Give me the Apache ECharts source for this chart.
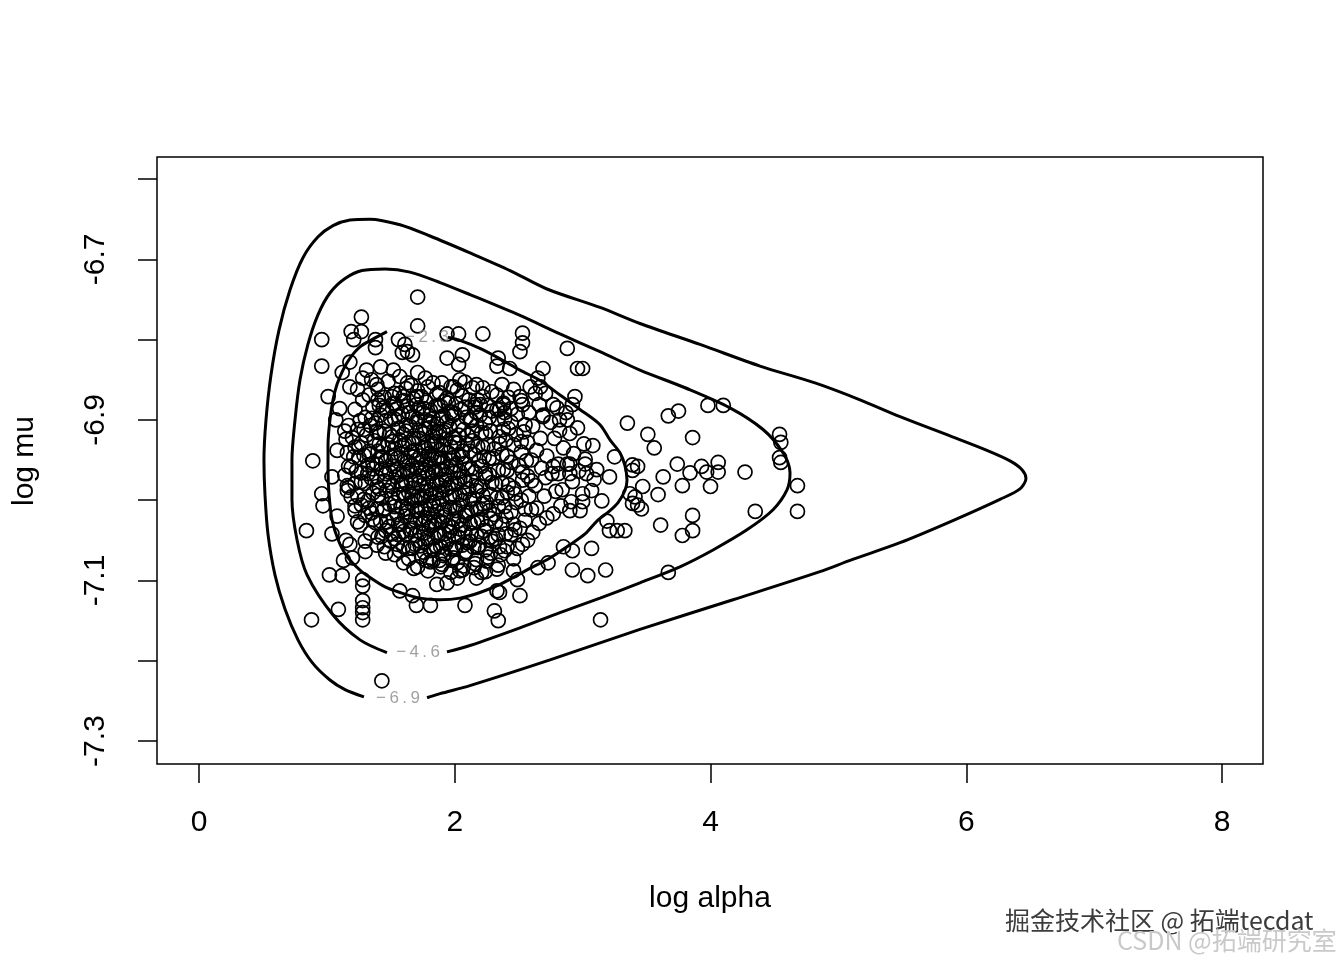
<!DOCTYPE html>
<html>
<head>
<meta charset="utf-8">
<script src="https://cdn.jsdelivr.net/npm/echarts@6/dist/echarts.min.js"></script>
<style>
  html, body { margin: 0; padding: 0; background: #fff; }
  #chart { width: 1344px; height: 960px; }
</style>
</head>
<body>
<div id="chart"></div>
<script>
// ---- axis ticks / labels ----
const xTicks = [0, 2, 4, 6, 8];
const yTicks = [-7.3, -7.2, -7.1, -7.0, -6.9, -6.8, -6.7, -6.6];
const yTickLabels = [-7.3, -7.1, -6.9, -6.7];
const xTitle = 'log alpha';
const yTitle = 'log mu';

// ---- scattered (readable) samples: [log alpha, log mu] ----
const sparsePoints = [
  [1.71,-6.747],[1.27,-6.772],[1.19,-6.790],[1.27,-6.790],[1.21,-6.800],[0.96,-6.800],[1.71,-6.783],
  [1.94,-6.793],[2.03,-6.793],[0.96,-6.833],[1.38,-6.800],[1.38,-6.810],[1.56,-6.800],[1.61,-6.806],
  [1.63,-6.815],[1.59,-6.816],[1.67,-6.819],[1.94,-6.823],[2.06,-6.819],[2.03,-6.831],[1.18,-6.828],
  [1.12,-6.841],[1.31,-6.838],[1.42,-6.834],[1.52,-6.838],[1.28,-6.848],[1.35,-6.850],[1.39,-6.856],
  [1.57,-6.846],[1.63,-6.854],[1.71,-6.841],[1.77,-6.848],[1.90,-6.854],[1.99,-6.859],[2.04,-6.850],
  [1.01,-6.871],[1.18,-6.859],[1.24,-6.862],[1.40,-6.875],[1.51,-6.871],[1.60,-6.871],[1.70,-6.871],
  [2.22,-6.793],[2.53,-6.792],[2.53,-6.804],[2.51,-6.815],[2.88,-6.811],[2.96,-6.836],[3.00,-6.836],
  [2.34,-6.823],[2.33,-6.833],[2.43,-6.836],[2.69,-6.836],[2.65,-6.848],[2.67,-6.859],[2.59,-6.859],
  [2.17,-6.856],[2.22,-6.860],[2.22,-6.871],[2.51,-6.871],[2.53,-6.881],[2.77,-6.881],[2.94,-6.871],
  [2.92,-6.881],[3.35,-6.904],[2.38,-6.881],[2.39,-6.891],[2.33,-6.887],[2.69,-6.894],[2.82,-6.900],
  [2.88,-6.900],[2.16,-6.881],[2.17,-6.891],
  [3.67,-6.895],[3.75,-6.889],[3.98,-6.882],[4.10,-6.882],[3.51,-6.918],[3.56,-6.935],[3.86,-6.922],
  [4.54,-6.918],[4.55,-6.928],[4.54,-6.947],[4.55,-6.953],[3.39,-6.956],[3.43,-6.958],[3.74,-6.955],
  [3.93,-6.958],[4.06,-6.953],[3.97,-6.965],[4.06,-6.965],[4.27,-6.965],[3.84,-6.966],[3.63,-6.971],
  [3.78,-6.982],[4.00,-6.983],[3.47,-6.983],[3.59,-6.993],[3.41,-6.996],[3.43,-7.006],[3.46,-7.011],
  [4.68,-6.982],[4.35,-7.014],[4.68,-7.014],[3.86,-7.019],[3.86,-7.038],[3.78,-7.044],[3.61,-7.031],
  [3.67,-7.090],
  [3.25,-6.946],[3.21,-6.971],[3.39,-6.963],[3.07,-6.988],[3.15,-7.001],[3.37,-6.992],[3.39,-7.004],
  [3.21,-7.038],[3.27,-7.038],[3.33,-7.038],[3.07,-7.060],[2.92,-7.063],[2.85,-7.058],[3.19,-7.026],
  [3.00,-7.002],[2.98,-7.013],[2.90,-7.013],[3.02,-6.955],[3.03,-6.967],[2.90,-6.955],[2.90,-6.967],
  [2.77,-6.958],[2.81,-6.967],
  [2.92,-7.087],[3.04,-7.094],[3.18,-7.087],[3.14,-7.149],[2.51,-7.119],[2.31,-7.138],[2.34,-7.150],
  [2.33,-7.113],[2.35,-7.115],[2.65,-7.084],[2.73,-7.078],[2.46,-7.088],[2.49,-7.099],[2.17,-7.097],
  [2.21,-7.090],
  [1.02,-7.093],[1.12,-7.094],[1.28,-7.099],[1.28,-7.107],[1.09,-7.136],[0.88,-7.149],[1.28,-7.125],
  [1.28,-7.134],[1.28,-7.140],[1.28,-7.149],[1.43,-7.225],[1.57,-7.113],[1.67,-7.119],[1.70,-7.131],
  [1.81,-7.131],[1.86,-7.105],[1.94,-7.103],[2.02,-7.097],[2.04,-7.088],[1.13,-7.075],[1.20,-7.072],
  [1.78,-7.075],[1.88,-7.075],[2.02,-7.078],[2.08,-7.131],
  [0.89,-6.951],[1.08,-6.938],[1.14,-6.914],[1.17,-6.958],[1.04,-6.971],[0.96,-6.992],[0.97,-7.007],
  [1.16,-6.982],[1.16,-6.988],[0.84,-7.038],[1.04,-7.042],[1.22,-7.007],[1.24,-7.027],[1.32,-6.967],
  [1.39,-6.955],[1.42,-6.946],[1.10,-6.886],[1.07,-6.900],[1.15,-7.050],[1.08,-7.020],[1.18,-7.055],
  [1.30,-7.064]
];

// ---- dense core samples (estimated) ----
const corePoints = [
  [1.48,-6.852],[1.66,-6.857],[1.83,-6.854],[1.97,-6.859],[2.08,-6.853],[2.37,-6.856],
  [1.40,-6.862],[1.53,-6.867],[1.62,-6.861],[1.71,-6.864],[1.79,-6.859],[1.88,-6.866],[2.02,-6.863],[2.14,-6.860],[2.29,-6.865],[2.46,-6.862],[2.63,-6.867],
  [1.33,-6.869],[1.45,-6.872],[1.57,-6.867],[1.68,-6.874],[1.74,-6.871],[1.86,-6.868],[1.94,-6.873],[2.06,-6.870],[2.18,-6.875],[2.33,-6.869],[2.42,-6.872],[2.71,-6.867],
  [1.28,-6.875],[1.41,-6.882],[1.52,-6.879],[1.60,-6.876],[1.70,-6.881],[1.78,-6.878],[1.85,-6.883],[1.92,-6.877],[2.01,-6.880],[2.11,-6.875],[2.25,-6.882],[2.38,-6.879],[2.52,-6.876],[2.66,-6.881],
  [1.22,-6.887],[1.36,-6.884],[1.47,-6.889],[1.55,-6.886],[1.64,-6.891],[1.72,-6.885],[1.81,-6.888],[1.89,-6.883],[1.97,-6.890],[2.05,-6.887],[2.16,-6.884],[2.29,-6.889],[2.44,-6.886],[2.58,-6.891],[2.80,-6.885],
  [1.30,-6.897],[1.42,-6.894],[1.50,-6.899],[1.59,-6.893],[1.67,-6.896],[1.75,-6.891],[1.83,-6.898],[1.91,-6.895],[2.00,-6.892],[2.09,-6.897],[2.20,-6.894],[2.34,-6.899],[2.49,-6.893],[2.69,-6.896],[2.87,-6.891],
  [1.17,-6.907],[1.26,-6.901],[1.38,-6.904],[1.53,-6.899],[1.62,-6.906],[1.70,-6.903],[1.77,-6.900],[1.86,-6.905],[1.94,-6.902],[2.03,-6.907],[2.13,-6.901],[2.24,-6.904],[2.39,-6.899],[2.55,-6.906],[2.75,-6.903],
  [1.24,-6.912],[1.34,-6.907],[1.45,-6.914],[1.56,-6.911],[1.65,-6.908],[1.73,-6.913],[1.80,-6.910],[1.88,-6.915],[1.96,-6.909],[2.07,-6.912],[2.17,-6.907],[2.28,-6.914],[2.42,-6.911],[2.61,-6.908],[2.82,-6.913],[2.96,-6.910],
  [1.20,-6.922],[1.31,-6.919],[1.41,-6.916],[1.51,-6.921],[1.60,-6.918],[1.68,-6.923],[1.76,-6.917],[1.83,-6.920],[1.91,-6.915],[1.99,-6.922],[2.10,-6.919],[2.21,-6.916],[2.35,-6.921],[2.48,-6.918],[2.67,-6.923],[2.90,-6.917],
  [1.15,-6.924],[1.27,-6.929],[1.37,-6.926],[1.48,-6.931],[1.57,-6.925],[1.64,-6.928],[1.72,-6.923],[1.79,-6.930],[1.86,-6.927],[1.93,-6.924],[2.02,-6.929],[2.14,-6.926],[2.26,-6.931],[2.40,-6.925],[2.57,-6.928],[2.78,-6.923],[3.01,-6.930],
  [1.22,-6.934],[1.33,-6.939],[1.44,-6.933],[1.53,-6.936],[1.61,-6.931],[1.69,-6.938],[1.75,-6.935],[1.82,-6.932],[1.89,-6.937],[1.97,-6.934],[2.06,-6.939],[2.18,-6.933],[2.31,-6.936],[2.46,-6.931],[2.64,-6.938],[2.85,-6.935],[3.08,-6.932],
  [1.16,-6.941],[1.29,-6.944],[1.40,-6.939],[1.50,-6.946],[1.58,-6.943],[1.66,-6.940],[1.73,-6.945],[1.80,-6.942],[1.87,-6.947],[1.95,-6.941],[2.03,-6.944],[2.12,-6.939],[2.23,-6.946],[2.37,-6.943],[2.52,-6.940],[2.72,-6.945],[2.93,-6.942],
  [1.25,-6.947],[1.36,-6.954],[1.46,-6.951],[1.55,-6.948],[1.63,-6.953],[1.70,-6.950],[1.77,-6.955],[1.84,-6.949],[1.91,-6.952],[1.99,-6.947],[2.08,-6.954],[2.19,-6.951],[2.30,-6.948],[2.44,-6.953],[2.60,-6.950],[2.81,-6.955],[3.02,-6.949],
  [1.19,-6.959],[1.32,-6.956],[1.43,-6.961],[1.52,-6.958],[1.60,-6.963],[1.67,-6.957],[1.74,-6.960],[1.81,-6.955],[1.88,-6.962],[1.94,-6.959],[2.01,-6.956],[2.10,-6.961],[2.21,-6.958],[2.34,-6.963],[2.50,-6.957],[2.68,-6.960],[2.88,-6.955],[3.11,-6.962],
  [1.14,-6.969],[1.27,-6.966],[1.39,-6.971],[1.49,-6.965],[1.57,-6.968],[1.65,-6.963],[1.72,-6.970],[1.79,-6.967],[1.85,-6.964],[1.92,-6.969],[1.99,-6.966],[2.07,-6.971],[2.16,-6.965],[2.27,-6.968],[2.41,-6.963],[2.57,-6.970],[2.76,-6.967],[2.97,-6.964],
  [1.22,-6.979],[1.35,-6.973],[1.45,-6.976],[1.54,-6.971],[1.62,-6.978],[1.69,-6.975],[1.76,-6.972],[1.83,-6.977],[1.90,-6.974],[1.97,-6.979],[2.04,-6.973],[2.13,-6.976],[2.24,-6.971],[2.37,-6.978],[2.53,-6.975],[2.71,-6.972],[2.92,-6.977],[3.09,-6.974],
  [1.17,-6.984],[1.30,-6.979],[1.41,-6.986],[1.51,-6.983],[1.59,-6.980],[1.67,-6.985],[1.74,-6.982],[1.81,-6.987],[1.88,-6.981],[1.95,-6.984],[2.02,-6.979],[2.11,-6.986],[2.20,-6.983],[2.32,-6.980],[2.46,-6.985],[2.63,-6.982],[2.84,-6.987],
  [1.24,-6.994],[1.36,-6.991],[1.47,-6.988],[1.56,-6.993],[1.64,-6.990],[1.71,-6.995],[1.78,-6.989],[1.85,-6.992],[1.93,-6.987],[2.00,-6.994],[2.08,-6.991],[2.17,-6.988],[2.28,-6.993],[2.41,-6.990],[2.58,-6.995],[2.79,-6.989],[3.00,-6.992],
  [1.19,-6.996],[1.32,-7.001],[1.43,-6.998],[1.53,-7.003],[1.61,-6.997],[1.69,-7.000],[1.76,-6.995],[1.83,-7.002],[1.90,-6.999],[1.98,-6.996],[2.06,-7.001],[2.15,-6.998],[2.25,-7.003],[2.37,-6.997],[2.52,-7.000],[2.70,-6.995],[2.91,-7.002],
  [1.27,-7.006],[1.39,-7.011],[1.49,-7.005],[1.58,-7.008],[1.66,-7.003],[1.74,-7.010],[1.81,-7.007],[1.88,-7.004],[1.96,-7.009],[2.04,-7.006],[2.13,-7.011],[2.22,-7.005],[2.34,-7.008],[2.48,-7.003],[2.64,-7.010],[2.83,-7.007],
  [1.22,-7.013],[1.35,-7.016],[1.45,-7.011],[1.55,-7.018],[1.63,-7.015],[1.71,-7.012],[1.79,-7.017],[1.86,-7.014],[1.93,-7.019],[2.01,-7.013],[2.10,-7.016],[2.20,-7.011],[2.31,-7.018],[2.44,-7.015],[2.60,-7.012],[2.77,-7.017],
  [1.30,-7.019],[1.42,-7.026],[1.52,-7.023],[1.61,-7.020],[1.69,-7.025],[1.77,-7.022],[1.84,-7.027],[1.91,-7.021],[1.99,-7.024],[2.08,-7.019],[2.18,-7.026],[2.28,-7.023],[2.40,-7.020],[2.55,-7.025],[2.72,-7.022],
  [1.26,-7.031],[1.38,-7.028],[1.49,-7.033],[1.58,-7.030],[1.67,-7.035],[1.75,-7.029],[1.82,-7.032],[1.90,-7.027],[1.98,-7.034],[2.06,-7.031],[2.15,-7.028],[2.25,-7.033],[2.37,-7.030],[2.51,-7.035],[2.66,-7.029],
  [1.34,-7.041],[1.46,-7.038],[1.56,-7.043],[1.65,-7.037],[1.73,-7.040],[1.80,-7.035],[1.88,-7.042],[1.96,-7.039],[2.04,-7.036],[2.13,-7.041],[2.23,-7.038],[2.34,-7.043],[2.47,-7.037],[2.61,-7.040],
  [1.30,-7.051],[1.43,-7.045],[1.53,-7.048],[1.62,-7.043],[1.71,-7.050],[1.79,-7.047],[1.87,-7.044],[1.95,-7.049],[2.03,-7.046],[2.12,-7.051],[2.21,-7.045],[2.32,-7.048],[2.44,-7.043],[2.57,-7.050],
  [1.39,-7.056],[1.50,-7.051],[1.60,-7.058],[1.69,-7.055],[1.77,-7.052],[1.85,-7.057],[1.93,-7.054],[2.01,-7.059],[2.10,-7.053],[2.19,-7.056],[2.29,-7.051],[2.41,-7.058],[2.53,-7.055],
  [1.46,-7.066],[1.57,-7.063],[1.67,-7.060],[1.76,-7.065],[1.84,-7.062],[1.92,-7.067],[2.00,-7.061],[2.09,-7.064],[2.18,-7.059],[2.28,-7.066],[2.39,-7.063],[2.49,-7.060],
  [1.53,-7.068],[1.64,-7.073],[1.74,-7.070],[1.83,-7.075],[1.91,-7.069],[1.99,-7.072],[2.08,-7.067],[2.17,-7.074],[2.26,-7.071],[2.36,-7.068],[2.46,-7.073],
  [1.60,-7.078],[1.71,-7.083],[1.81,-7.077],[1.90,-7.080],[1.98,-7.075],[2.07,-7.082],[2.16,-7.079],[2.25,-7.076],[2.34,-7.081],
  [1.68,-7.085],[1.79,-7.088],[1.89,-7.083],[1.97,-7.090],[2.06,-7.087],[2.15,-7.084],[2.24,-7.089],[2.33,-7.086]
];

// ---- extra samples in the densest centre (estimated) ----
const centrePoints = [
  [1.44,-6.885],[1.53,-6.880],[1.63,-6.883],[1.76,-6.886],[1.87,-6.882],[1.95,-6.879],[2.08,-6.884],[2.20,-6.881],[2.35,-6.887],
  [1.35,-6.898],[1.46,-6.901],[1.56,-6.896],[1.71,-6.899],[1.80,-6.902],[1.89,-6.898],[1.98,-6.895],[2.12,-6.900],[2.27,-6.897],[2.44,-6.903],
  [1.29,-6.912],[1.39,-6.915],[1.49,-6.918],[1.62,-6.914],[1.77,-6.911],[1.85,-6.916],[1.93,-6.913],[2.03,-6.919],[2.14,-6.914],[2.24,-6.917],[2.38,-6.912],[2.54,-6.915],
  [1.25,-6.934],[1.41,-6.930],[1.51,-6.927],[1.59,-6.932],[1.67,-6.929],[1.77,-6.935],[1.84,-6.930],[1.91,-6.933],[2.00,-6.928],[2.10,-6.931],[2.22,-6.934],[2.35,-6.930],[2.52,-6.927],
  [1.21,-6.946],[1.33,-6.943],[1.43,-6.948],[1.53,-6.945],[1.61,-6.951],[1.68,-6.946],[1.75,-6.949],[1.82,-6.944],[1.89,-6.947],[1.97,-6.950],[2.06,-6.946],[2.15,-6.943],[2.27,-6.948],[2.41,-6.945],[2.56,-6.951],
  [1.23,-6.964],[1.36,-6.961],[1.46,-6.967],[1.55,-6.962],[1.63,-6.965],[1.70,-6.960],[1.77,-6.963],[1.83,-6.966],[1.90,-6.962],[1.97,-6.959],[2.04,-6.964],[2.13,-6.961],[2.24,-6.967],[2.38,-6.962],[2.53,-6.965],
  [1.27,-6.977],[1.39,-6.983],[1.49,-6.978],[1.58,-6.981],[1.66,-6.976],[1.72,-6.979],[1.79,-6.982],[1.86,-6.978],[1.93,-6.975],[2.00,-6.980],[2.08,-6.977],[2.17,-6.983],[2.29,-6.978],[2.42,-6.981],[2.60,-6.976],
  [1.29,-6.999],[1.40,-6.994],[1.51,-6.997],[1.60,-6.992],[1.67,-6.995],[1.74,-6.998],[1.81,-6.994],[1.88,-6.991],[1.96,-6.996],[2.04,-6.993],[2.12,-6.999],[2.22,-6.994],[2.33,-6.997],[2.47,-6.992],
  [1.33,-7.010],[1.44,-7.013],[1.53,-7.008],[1.62,-7.011],[1.70,-7.014],[1.77,-7.010],[1.84,-7.007],[1.92,-7.012],[2.00,-7.009],[2.08,-7.015],[2.17,-7.010],[2.27,-7.013],[2.39,-7.008],[2.55,-7.011],
  [1.36,-7.024],[1.47,-7.027],[1.56,-7.030],[1.65,-7.026],[1.73,-7.023],[1.80,-7.028],[1.87,-7.025],[1.95,-7.031],[2.03,-7.026],[2.12,-7.029],[2.21,-7.024],[2.32,-7.027],[2.46,-7.030],
  [1.40,-7.046],[1.51,-7.042],[1.60,-7.039],[1.69,-7.044],[1.76,-7.041],[1.84,-7.047],[1.92,-7.042],[2.00,-7.045],[2.08,-7.040],[2.17,-7.043],[2.28,-7.046],[2.40,-7.042],
  [1.45,-7.058],[1.55,-7.055],[1.64,-7.060],[1.73,-7.057],[1.81,-7.063],[1.89,-7.058],[1.97,-7.061],[2.06,-7.056],[2.15,-7.059],[2.24,-7.062],[2.35,-7.058]
];

// ---- contour lines (level -6.9, -4.6, -2.3) ----
const contourOuter = [
  [1.290,-7.245],[1.142,-7.236],[1.024,-7.224],[0.884,-7.202],[0.774,-7.174],[0.673,-7.136],[0.594,-7.093],
  [0.540,-7.043],[0.516,-6.993],[0.508,-6.950],[0.524,-6.900],[0.563,-6.844],[0.626,-6.788],[0.712,-6.738],
  [0.813,-6.698],[0.931,-6.672],[1.048,-6.658],[1.181,-6.651],[1.337,-6.650],[1.572,-6.657],[1.806,-6.671],
  [2.119,-6.692],[2.432,-6.714],[2.721,-6.737],[3.136,-6.760],[3.448,-6.780],[3.918,-6.806],[4.387,-6.833],
  [4.817,-6.854],[5.169,-6.875],[5.482,-6.896],[5.873,-6.920],[6.147,-6.937],[6.342,-6.951],[6.436,-6.962],
  [6.467,-6.973],[6.420,-6.986],[6.264,-6.999],[5.873,-7.027],[5.482,-7.053],[5.091,-7.075],[4.856,-7.089],
  [4.176,-7.124],[3.448,-7.161],[2.745,-7.199],[2.119,-7.231],[1.885,-7.241],[1.783,-7.246]
];
const contourMiddle = [
  [1.470,-7.190],[1.259,-7.174],[1.048,-7.143],[0.845,-7.093],[0.766,-7.049],[0.727,-6.999],[0.727,-6.950],
  [0.751,-6.900],[0.790,-6.850],[0.852,-6.806],[0.931,-6.769],[1.024,-6.742],[1.142,-6.724],[1.275,-6.714],
  [1.455,-6.712],[1.650,-6.716],[1.885,-6.729],[2.119,-6.744],[2.510,-6.770],[2.823,-6.793],[3.136,-6.815],
  [3.448,-6.838],[3.801,-6.860],[4.152,-6.885],[4.411,-6.912],[4.567,-6.941],[4.622,-6.966],[4.599,-6.987],
  [4.489,-7.012],[4.285,-7.037],[4.020,-7.062],[3.761,-7.083],[3.448,-7.103],[3.136,-7.122],[2.823,-7.140],
  [2.510,-7.159],[2.119,-7.181],[1.939,-7.189]
];
const contourInner = [
  [1.470,-6.790],[1.353,-6.800],[1.259,-6.809],[1.181,-6.823],[1.126,-6.838],[1.079,-6.856],[1.048,-6.875],
  [1.024,-6.900],[1.009,-6.931],[1.009,-6.962],[1.017,-6.993],[1.040,-7.024],[1.087,-7.049],[1.157,-7.070],
  [1.259,-7.087],[1.353,-7.098],[1.455,-7.108],[1.572,-7.115],[1.728,-7.122],[1.885,-7.124],[2.041,-7.122],
  [2.197,-7.115],[2.354,-7.105],[2.588,-7.085],[2.745,-7.072],[2.878,-7.058],[3.019,-7.042],[3.112,-7.026],
  [3.214,-7.013],[3.277,-7.003],[3.331,-6.988],[3.347,-6.975],[3.331,-6.957],[3.292,-6.941],[3.214,-6.925],
  [3.136,-6.906],[2.979,-6.887],[2.823,-6.869],[2.667,-6.851],[2.510,-6.838],[2.354,-6.824],[2.197,-6.811],
  [2.041,-6.801],[1.947,-6.797]
];
const contourLabels = ['\u2212\u20092\u2009.\u20093', '\u2212\u20094\u2009.\u20096', '\u2212\u20096\u2009.\u20099'];
const contourLabelAt = [[1.783,-6.797],[1.713,-7.190],[1.556,-7.247]];

// ---- axis ranges (plot region extends beyond ticks, R style) ----
const X_MIN = -0.3284, X_MAX = 8.3206;
const Y_MIN = -7.3286, Y_MAX = -6.5726;

const chart = echarts.init(document.getElementById('chart'), null, { renderer: 'canvas' });
const FONT = '"Liberation Sans", Arial, Helvetica, sans-serif';

const lineSeries = (data) => ({
  type: 'line', data: data, showSymbol: false, symbol: 'none', smooth: 0.3,
  lineStyle: { color: '#000', width: 3 }, z: 4, silent: true, animation: false
});

chart.setOption({
  animation: false,
  backgroundColor: '#fff',
  grid: {
    left: 157, top: 157, width: 1106, height: 607,
    show: true, borderColor: '#000', borderWidth: 1.5, backgroundColor: 'transparent'
  },
  xAxis: {
    type: 'value', min: X_MIN, max: X_MAX, position: 'bottom',
    axisLine: { show: false, onZero: false },
    splitLine: { show: false },
    axisTick: { show: true, customValues: xTicks, length: 19, lineStyle: { color: '#000', width: 1.5 } },
    axisLabel: { customValues: xTicks, color: '#000', fontSize: 30, fontFamily: FONT, margin: 44,
      formatter: (v) => String(v) }
  },
  yAxis: {
    type: 'value', min: Y_MIN, max: Y_MAX, position: 'left',
    axisLine: { show: false, onZero: false },
    splitLine: { show: false },
    axisTick: { show: true, customValues: yTicks, length: 19, lineStyle: { color: '#000', width: 1.5 } },
    axisLabel: { customValues: yTickLabels, color: '#000', fontSize: 30, fontFamily: FONT, margin: 46,
      rotate: 90, formatter: (v) => Number(v).toFixed(1) }
  },
  series: [
    {
      type: 'scatter',
      data: sparsePoints.concat(corePoints, centrePoints),
      symbol: 'circle', symbolSize: 14,
      itemStyle: { color: 'rgba(0,0,0,0)', borderColor: '#000', borderWidth: 1.7, opacity: 1 },
      silent: true, z: 2, animation: false, large: false
    },
    lineSeries(contourOuter),
    lineSeries(contourMiddle),
    lineSeries(contourInner),
    {
      type: 'scatter',
      data: contourLabelAt.map((p, i) => ({ value: p, name: contourLabels[i] })),
      symbolSize: 1, itemStyle: { color: 'rgba(0,0,0,0)' }, z: 5, silent: true,
      label: { show: true, position: 'inside', formatter: (p) => p.name,
        color: '#8a8a8a', fontSize: 17, fontFamily: FONT }
    }
  ],
  graphic: [
    { type: 'text', x: 710, y: 899, style: { text: xTitle, fill: '#000', font: '30px ' + FONT,
      textAlign: 'center', textVerticalAlign: 'middle' } },
    { type: 'text', x: 25, y: 461, rotation: Math.PI / 2, style: { text: yTitle, fill: '#000', font: '30px ' + FONT,
      textAlign: 'center', textVerticalAlign: 'middle' } },
    { type: 'text', x: 1005, y: 920, style: { text: '掘金技术社区 @ 拓端tecdat', fill: '#3c3c3c',
      font: '25px "Noto Sans CJK SC", sans-serif', textAlign: 'left', textVerticalAlign: 'middle',
      textShadowColor: 'rgba(255,255,255,0.9)', textShadowOffsetX: 1, textShadowOffsetY: 1, textShadowBlur: 0 } },
    { type: 'text', x: 1117, y: 940, style: { text: 'CSDN @拓端研究室', fill: '#c9c9c9',
      font: '25px "Noto Sans CJK SC", sans-serif', textAlign: 'left', textVerticalAlign: 'middle' } }
  ]
});
</script>
</body>
</html>
